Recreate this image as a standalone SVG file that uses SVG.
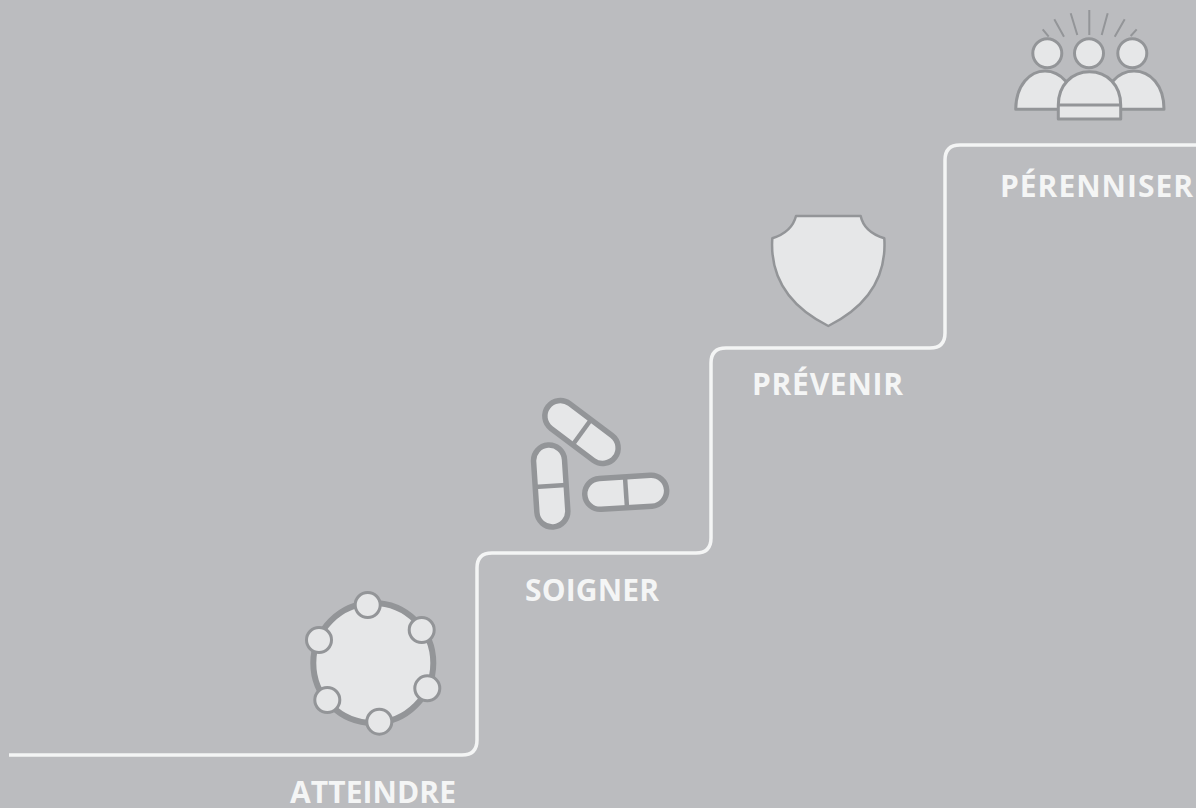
<svg xmlns="http://www.w3.org/2000/svg" width="1196" height="808" viewBox="0 0 1196 808">
<style>
.lbl{font-family:"Open Sans","Noto Sans","Liberation Sans",sans-serif;font-weight:700;font-size:30px;fill:#f4f5f5}
.ic{fill:#e6e7e8;stroke:#939598;stroke-linejoin:round}
.ray{fill:none;stroke:#939598;stroke-width:2}
</style>
<rect width="1196" height="808" fill="#bbbcbf"/>
<g id="connectors">
<path d="M9 755H462Q477 755 477 740V568Q477 553 492 553H696Q711 553 711 538V363Q711 348 726 348H930Q945 348 945 333V160Q945 145 960 145H1196" fill="none" stroke="#f4f5f5" stroke-width="3.500"/>
</g>
<g id="atteindre">
<circle class="ic" cx="373.3" cy="663" r="60" stroke-width="6"/>
<g class="ic" stroke-width="3">
<circle cx="367.7" cy="605" r="12.500"/>
<circle cx="421.7" cy="630" r="12.500"/>
<circle cx="427.3" cy="688.3" r="12.500"/>
<circle cx="379.3" cy="721.7" r="12.500"/>
<circle cx="327.3" cy="700" r="12.500"/>
<circle cx="319" cy="640" r="12.500"/>
</g>
<text class="lbl" x="290" y="802.500" textLength="166">ATTEINDRE</text>
</g>
<g id="soigner">
<g class="ic" stroke-width="5.500">
<rect x="-42" y="-15.500" width="84" height="31" rx="15.500" transform="translate(581.5 432) rotate(37)"/>
<rect x="-15.500" y="-41" width="31" height="82" rx="15.500" transform="translate(550.7 486) rotate(-3.7)"/>
<rect x="-41" y="-15.500" width="82" height="31" rx="15.500" transform="translate(625.7 492.3) rotate(-3.500)"/>
</g>
<g fill="none" stroke="#939598" stroke-width="4.500">
<path d="M574 443L590 421"/>
<path d="M534.500 487L566 485"/>
<path d="M625 477L627 508"/>
</g>
<text class="lbl" x="525" y="601" textLength="134">SOIGNER</text>
</g>
<g id="prevenir">
<path class="ic" stroke-width="2.500" d="M796 216H860.700Q864 232 884.300 238.300Q888 296 828.300 326Q768.500 296 772.300 238.300Q792 232 796 216Z"/>
<text class="lbl" x="752" y="394.500" textLength="151">PRÉVENIR</text>
</g>
<g id="perenniser">
<g>
<path class="ray" d="M1042.700 29.300L1048.700 36.700M1054.300 19.300L1064 36.700M1070.700 13.300L1077.300 35M1089.300 10V35M1107.700 13.300L1101.700 35M1124.700 19.300L1114.700 36.700M1136.700 29.300L1130.700 36"/>
</g>
<g class="ic" stroke-width="3">
<circle cx="1047.300" cy="53.300" r="14.500"/>
<circle cx="1089" cy="53.300" r="14.500"/>
<circle cx="1132.300" cy="53.300" r="14.500"/>
<path d="M1015.700 109.300C1016 85 1030 71 1045 71C1060 71 1075 85 1075 109.300Z"/>
<path d="M1104 109.300C1104 85 1118 71 1134 71C1150 71 1164 85 1164 109.300Z"/>
<path d="M1058.300 105C1058.300 85 1072 71.700 1089.500 71.700C1107 71.700 1120.700 85 1120.700 105V119H1058.300Z"/>
<path d="M1058.300 105H1120.700"/>
</g>
<text class="lbl" x="1000" y="196.500" textLength="193">PÉRENNISER</text>
</g>
</svg>
